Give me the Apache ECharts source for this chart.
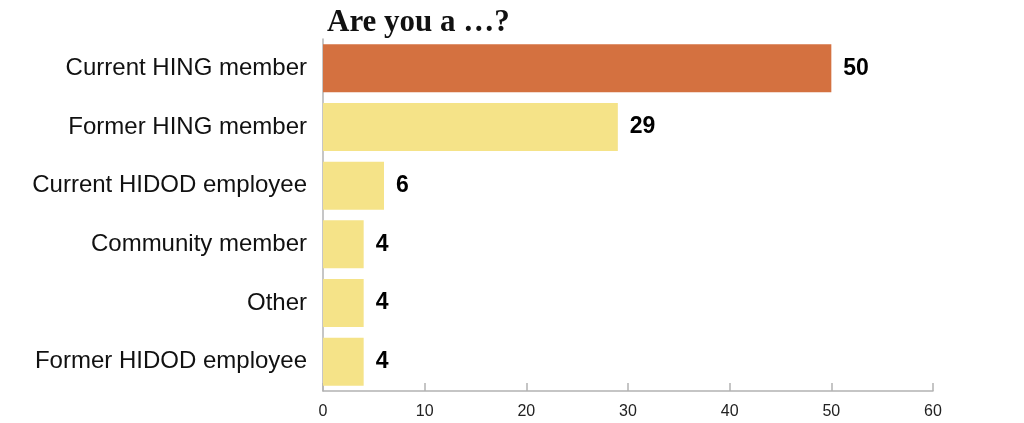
<!DOCTYPE html>
<html lang="en">
<head>
  <meta charset="UTF-8">
  <title>Are you a …?</title>
  <script src="https://cdn.jsdelivr.net/npm/echarts@6/dist/echarts.min.js"></script>
  <style>
    html,body{padding:0;margin:0;background:#fff;}
    #chartBox{width:1024px;height:423px;}
  </style>
</head>
<body>
  <div id="chartBox"></div>
  <script>
    const categories = ['Current HING member', 'Former HING member', 'Current HIDOD employee', 'Community member', 'Other', 'Former HIDOD employee']
    const counts = [50, 29, 6, 4, 4, 4]
    const highlightIndex = 0 // the bar drawn in orange

    let option = {
      animation: false,
      title: {
        text: 'Are you a …?',
        left: 322,
        top: 2,
        textStyle: {fontFamily: 'Liberation Serif', fontWeight: 'bold', fontSize: 31, color: '#111'}
      },
      grid: {left: 323, right: 91, top: 39, bottom: 32, containLabel: false},
      xAxis: {
        type: 'value',
        min: 0,
        max: 60,
        interval: 10,
        axisLine: {show: true, lineStyle: {color: '#b3b3b3', width: 1.5}},
        axisTick: {show: true, inside: true, length: 8, lineStyle: {color: '#b3b3b3', width: 1.5}},
        axisLabel: {color: '#222', fontFamily: 'Liberation Sans', fontSize: 16, margin: 13},
        splitLine: {show: false}
      },
      yAxis: {
        type: 'category',
        inverse: true,
        data: categories,
        axisLine: {show: true, lineStyle: {color: '#b3b3b3', width: 1.5}},
        axisTick: {show: false},
        axisLabel: {color: '#111', fontFamily: 'Liberation Sans', fontSize: 24, margin: 16, padding: [4, 0, 0, 0]}
      },
      series: [{
        type: 'bar',
        barWidth: 48,
        data: counts.map((v, i) => ({
          value: v,
          itemStyle: {color: i === highlightIndex ? '#d47140' : '#f5e388'}
        })),
        label: {
          show: true,
          position: 'right',
          distance: 12,
          color: '#000',
          fontFamily: 'Liberation Sans',
          fontWeight: 'bold',
          fontSize: 23
        }
      }]
    };
    let myChart = echarts.init(document.getElementById('chartBox'));
    myChart.setOption(option);
  </script>
</body>
</html>
